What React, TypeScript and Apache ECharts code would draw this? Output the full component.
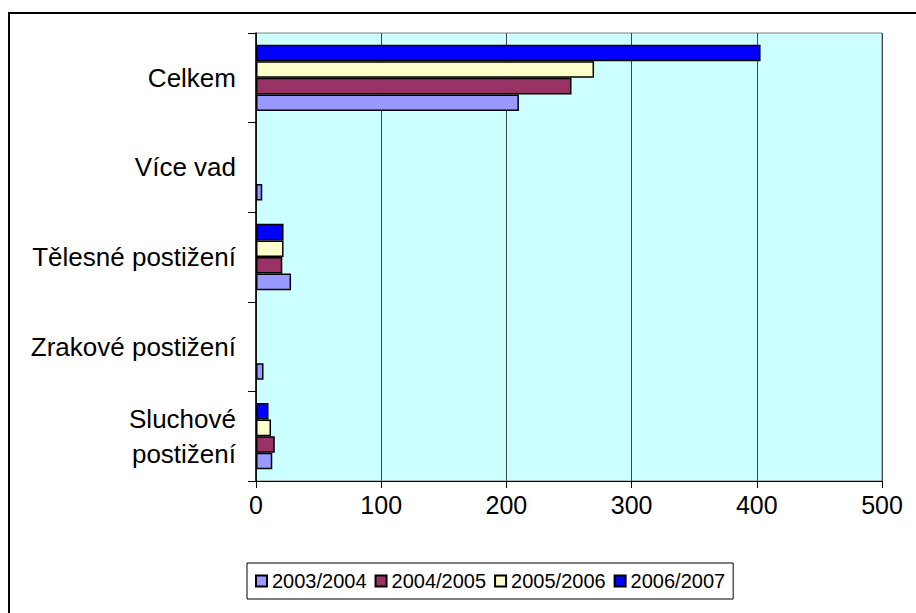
import React, { useEffect, useRef } from "react";
import * as echarts from "echarts";

const categories = ["Sluchové\npostižení", "Zrakové postižení", "Tělesné postižení", "Více vad", "Celkem"];
const seriesNames = ["2003/2004", "2004/2005", "2005/2006", "2006/2007"];
const values2003 = [13, 6, 28, 5, 210];
const values2004 = [15, null, 21, null, 252];
const values2005 = [12, null, 22, null, 270];
const values2006 = [10, null, 22, null, 403];
const colors = ["#9999FF", "#993366", "#FFFFCC", "#0000FF"];
const xTicks = { min: 0, max: 500, interval: 100 };

export default function App() {
  const ref = useRef<HTMLDivElement>(null);
  useEffect(() => {
    if (!ref.current) return;
    const chart = echarts.init(ref.current, null, { renderer: "svg" });
    const allValues = [values2003, values2004, values2005, values2006];
    const font = "'Liberation Sans', Arial, sans-serif";
    const series = seriesNames
      .map((name, i) => ({
        name,
        type: "bar",
        data: allValues[i],
        barGap: "0%",
        barCategoryGap: "26%",
        itemStyle: { color: colors[i], borderColor: "#000", borderWidth: 1.5 },
      }))
      .reverse();
    chart.setOption({
      animation: false,
      textStyle: { fontFamily: font },
      graphic: [
        {
          type: "rect",
          shape: { x: 9, y: 13, width: 920, height: 620 },
          style: { fill: "none", stroke: "#000", lineWidth: 2 },
          silent: true,
        },
      ],
      grid: {
        left: 256,
        right: 34,
        top: 33,
        bottom: 132,
        show: true,
        backgroundColor: "#CCFFFF",
        borderColor: "#808080",
        borderWidth: 1,
      },
      legend: {
        left: 247,
        top: 563,
        orient: "horizontal",
        data: seriesNames,
        itemWidth: 11,
        itemHeight: 11,
        itemGap: 8,
        padding: [8, 8],
        borderColor: "#000",
        borderWidth: 1,
        textStyle: { fontSize: 20, color: "#000", fontFamily: font },
        icon: "rect",
      },
      xAxis: {
        type: "value",
        min: xTicks.min,
        max: xTicks.max,
        interval: xTicks.interval,
        axisLine: { show: true, lineStyle: { color: "#000", width: 1 } },
        axisTick: { show: true, length: 7, lineStyle: { color: "#000" } },
        axisLabel: { fontSize: 25, color: "#000", margin: 11, fontFamily: font },
        splitLine: { show: true, lineStyle: { color: "#444", width: 1 } },
      },
      yAxis: {
        type: "category",
        data: categories,
        axisLine: { show: true, onZero: false, lineStyle: { color: "#000", width: 1.5 } },
        axisTick: { show: true, length: 8, lineStyle: { color: "#000" } },
        axisLabel: { fontSize: 26, color: "#000", margin: 20, lineHeight: 35, align: "right", fontFamily: font },
        splitLine: { show: false },
      },
      series,
    });
    return () => chart.dispose();
  }, []);
  return <div ref={ref} style={{ position: "absolute", left: 0, top: 0, width: 916, height: 613 }} />;
}
